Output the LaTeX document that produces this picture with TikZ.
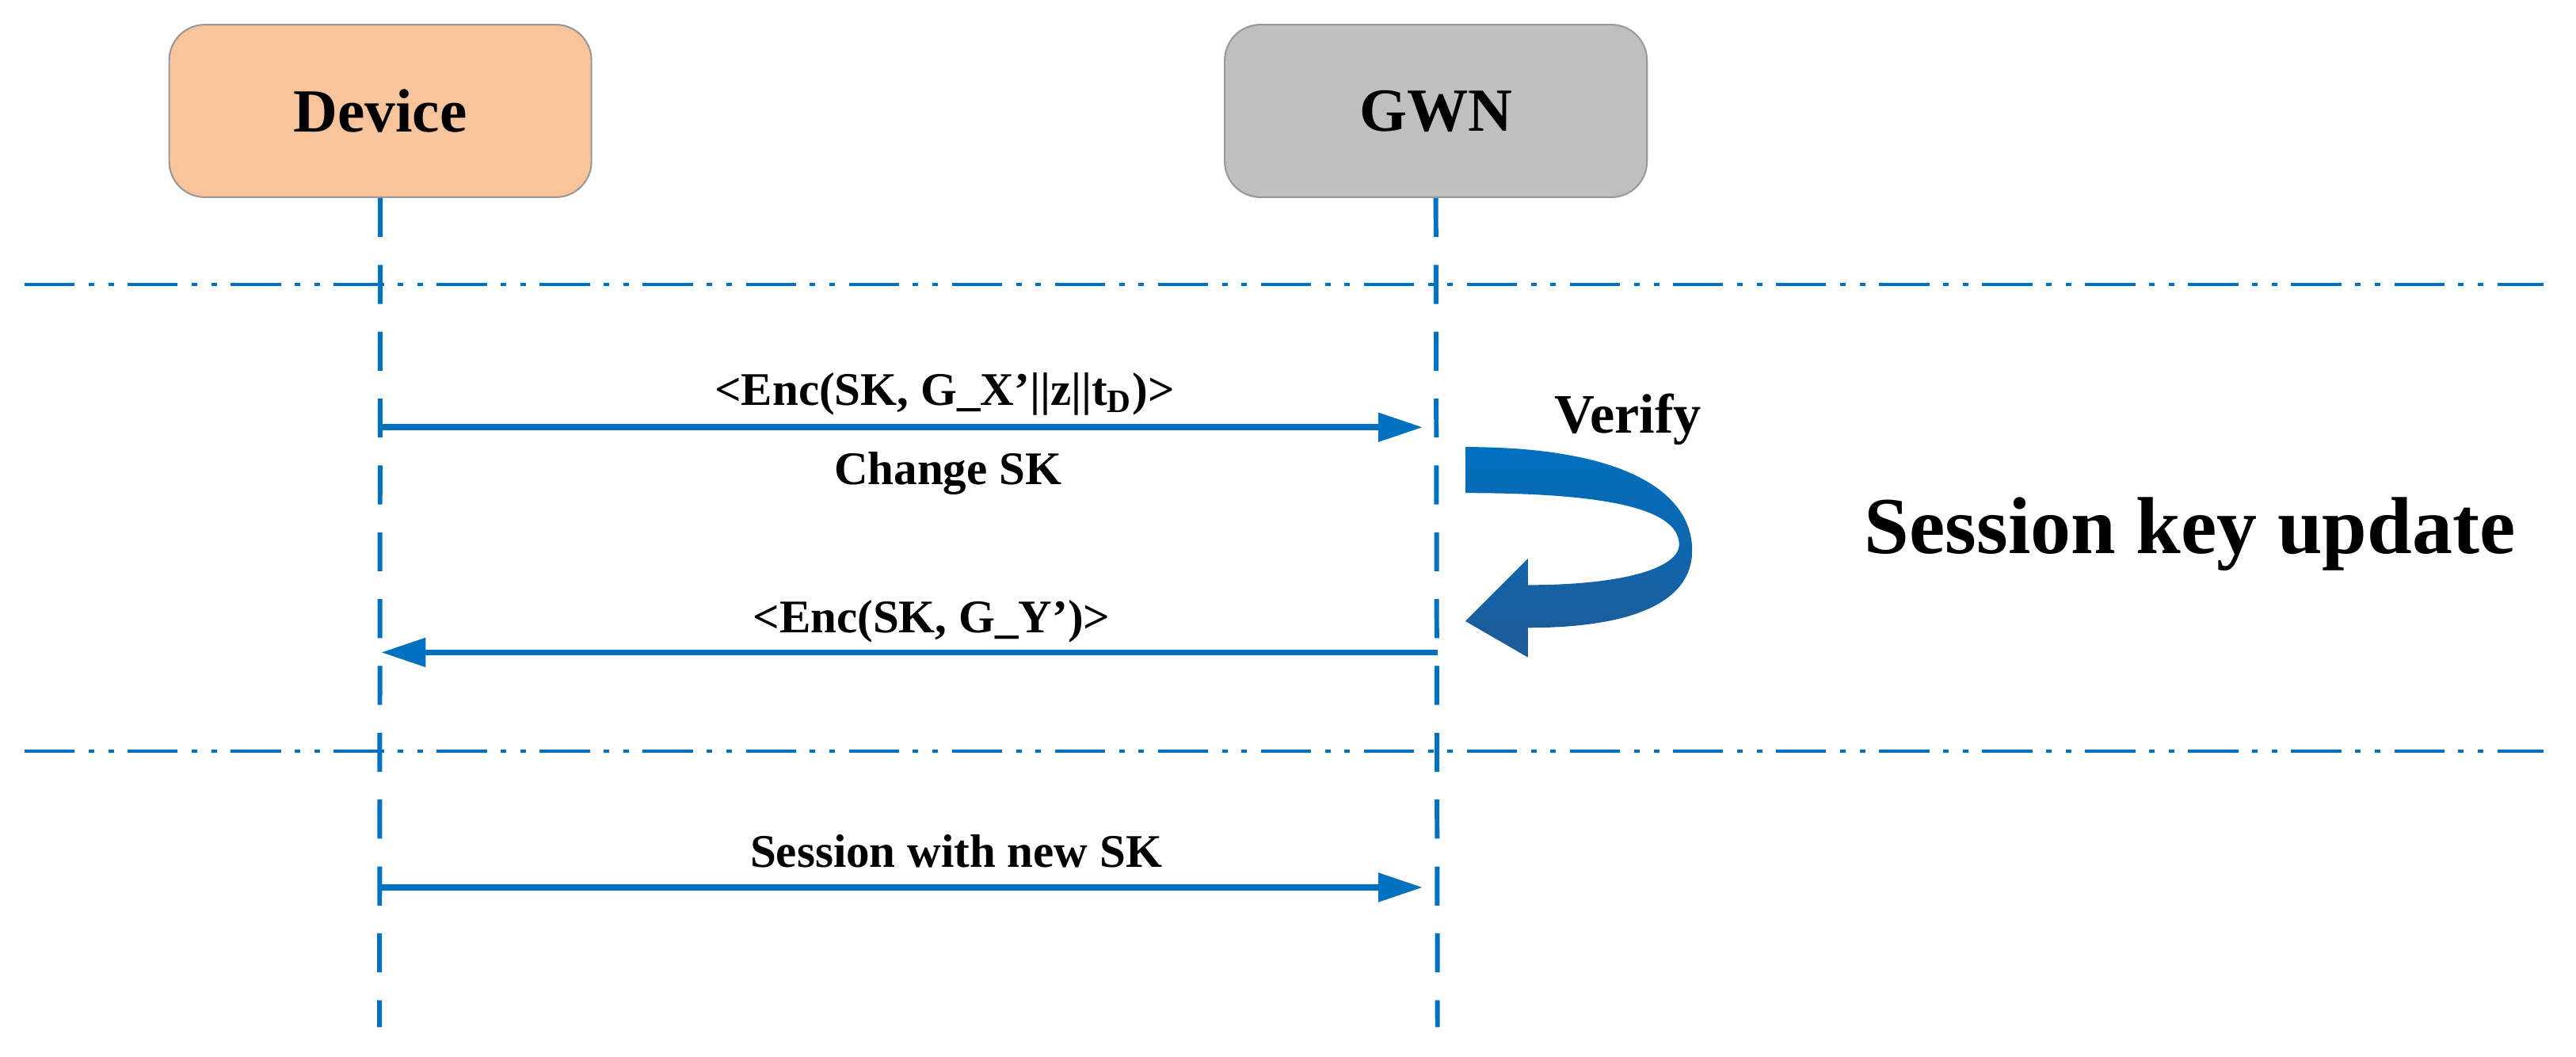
\documentclass[tikz,border=0pt]{standalone}
\usepackage{fontspec}
\setmainfont{Liberation Serif}
\usetikzlibrary{arrows.meta}
\definecolor{lb}{HTML}{0070C0}
\definecolor{db}{HTML}{1F5A96}
\definecolor{dev}{HTML}{F8C49C}
\definecolor{gw}{HTML}{BFBFBF}
\newcommand{\ap}{\char"27}
\begin{document}
\begin{tikzpicture}[x=0.02074cm,y=-0.02074cm,
  box/.style={draw=gray!80,line width=0.6pt,rounded corners=0.45cm,minimum width=257*0.02074cm,minimum height=105*0.02074cm,font=\fontsize{22}{26}\selectfont\bfseries},
  life/.style={lb,line width=1.7pt,dash pattern=on 14pt off 10pt},
  sep/.style={lb,line width=1.3pt,dash pattern=on 18pt off 5pt on 2pt off 5pt on 2pt off 5pt},
  msg/.style={lb,line width=2.2pt,-{Triangle[length=16pt,width=10pt]}},
  lbl/.style={font=\fontsize{16.8}{20}\selectfont\bfseries}]
\useasboundingbox (0,0) rectangle (1568,643);
\node[box,fill=dev] (dev) at (231.5,67.5) {Device};
\node[box,fill=gw] (gwn) at (874,67.5) {GWN};
\coordinate (d0) at (231,625); \coordinate (g0) at (875,625);
\draw[life] (dev.south) -- (d0);
\draw[life] (gwn.south) -- (g0);
\coordinate (s1a) at (15,173); \coordinate (s1b) at (1548,173);
\coordinate (s2a) at (15,457); \coordinate (s2b) at (1548,457);
\draw[sep] (s1a) -- (s1b);
\draw[sep] (s2a) -- (s2b);
\coordinate (a1s) at (231,260); \coordinate (a1e) at (866,260);
\coordinate (a2s) at (875,397); \coordinate (a2e) at (232,397);
\coordinate (a3s) at (231,540); \coordinate (a3e) at (866,540);
\draw[msg] (a1s) -- (a1e);
\draw[msg] (a2s) -- (a2e);
\draw[msg] (a3s) -- (a3e);
\node[lbl] (l1) at (575,240) {<Enc(SK, G\_X\ap||z||t\textsubscript{D})>};
\node[lbl] (l2) at (577,288) {Change SK};
\node[lbl] (l3) at (567,378) {<Enc(SK, G\_Y\ap)>};
\node[lbl] (l4) at (582,518) {Session with new SK};
\node[font=\fontsize{20}{24}\selectfont\bfseries] (vf) at (991,255) {Verify};
\node[font=\fontsize{29}{34}\selectfont\bfseries] (su) at (1333,325) {Session key update};
\shade[top color=lb,bottom color=db]
 (892,272) .. controls (990,272) and (1030,300) .. (1030,335)
 .. controls (1030,368) and (990,382) .. (930,382) -- (930,400) -- (892,378) -- (930,340) -- (930,356)
 .. controls (990,356) and (1024,345) .. (1022,330)
 .. controls (1020,310) and (980,300) .. (892,300) -- cycle;
\end{tikzpicture}
\end{document}
